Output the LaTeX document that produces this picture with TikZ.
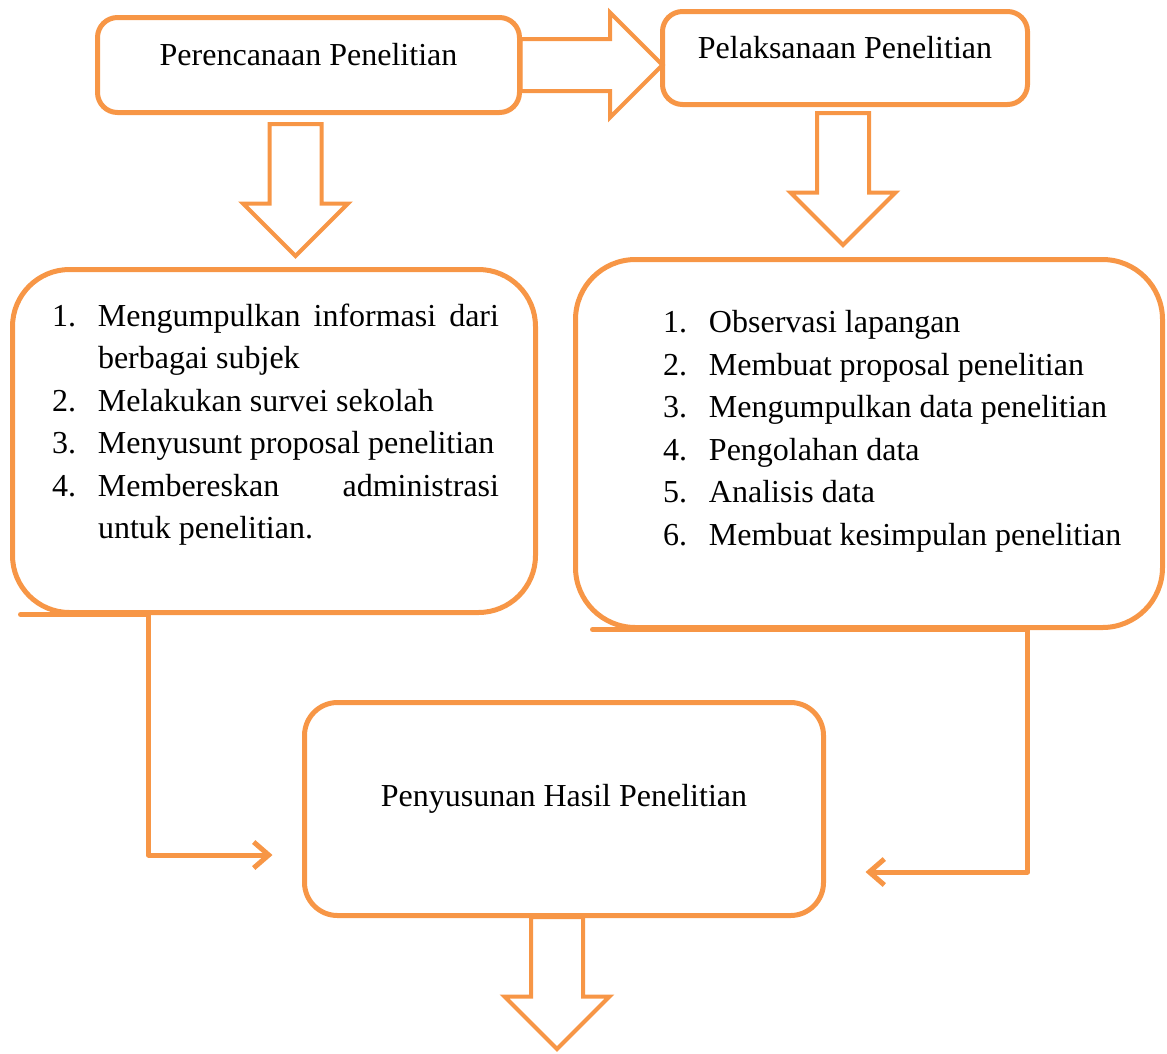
\documentclass[tikz,border=0pt]{standalone}
\usepackage{fontspec}
\setmainfont{Liberation Serif}
\usetikzlibrary{shapes.arrows,arrows.meta}
\definecolor{flow}{HTML}{F79646}
\hyphenpenalty=10000
\tolerance=10000
\hbadness=10000
\tikzset{stepbox/.style={draw=flow, line width=5pt, rounded corners=#1,
         inner sep=0pt, outer sep=0pt, text height=0pt, text depth=0pt},
         stepbox/.default={20pt},
         bigarrow/.style={single arrow, draw=flow, line width=4pt,
         minimum width=101pt, single arrow head extend=26.5pt,
         single arrow tip angle=90, minimum height=#1,
         inner sep=24pt, outer sep=0pt},
         bigarrow/.default={132pt},
         steplist/.style={anchor=base west, inner sep=0pt, outer sep=0pt,
         text width=#1, align=justify},
         link/.style={draw=flow, line width=5pt, line cap=round, line join=round,
         -{Straight Barb[length=15pt,width=26pt]}}}
\newcommand{\stepitem}[2]{{\noindent\hangindent=46pt\hangafter=1
  \makebox[46pt][l]{#1}#2\par}}

\begin{document}
\begin{tikzpicture}[x=1pt, y=-1pt, font=\fontsize{32}{42.5}\selectfont]
      \useasboundingbox (0,0) rectangle (1167,1053);

      \node[stepbox, minimum width=422pt, minimum height=95pt] (plan) at (308.5,65) {Perencanaan Penelitian};
      \node[stepbox, minimum width=365pt, minimum height=93pt] (exec) at (845,58) {Pelaksanaan Penelitian};
      \node[stepbox=57pt, minimum width=523pt, minimum height=343pt] (prep) at (274,441) {};
      \node[stepbox=60pt, minimum width=587pt, minimum height=368pt] (work) at (869,443.5) {};
      \node[stepbox=33pt, minimum width=519pt, minimum height=213pt] (result) at (564,809) {};
      \node[anchor=base, inner sep=0pt] (resulttitle) at ([yshift=3pt]result.center) {Penyusunan Hasil Penelitian};

      \node[bigarrow=142pt, anchor=tail] (toexec) at ([xshift=1pt]plan.east) {};
      \node[bigarrow, shape border rotate=270, anchor=tail] (toprep) at ([xshift=-13pt, yshift=-11.5pt]plan.south) {};
      \node[bigarrow, shape border rotate=270, anchor=tail] (towork) at ([xshift=-2pt, yshift=-8.5pt]exec.south) {};
      \node[bigarrow, shape border rotate=270, anchor=tail] (todone) at ([xshift=-7pt, yshift=-1.5pt]result.south) {};

      \node[steplist=447pt] (preplist) at (52,326) {%
        \stepitem{1.}{Mengumpulkan informasi dari berbagai subjek}
        \stepitem{2.}{Melakukan survei sekolah}
        \stepitem{3.}{Menyusunt proposal penelitian}
        \stepitem{4.}{Membereskan administrasi untuk penelitian.}};
      \node[steplist=487pt] (worklist) at (663,332.5) {%
        \stepitem{1.}{Observasi lapangan}
        \stepitem{2.}{Membuat proposal penelitian}
        \stepitem{3.}{Mengumpulkan data penelitian}
        \stepitem{4.}{Pengolahan data}
        \stepitem{5.}{Analisis data}
        \stepitem{6.}{Membuat kesimpulan penelitian}};

      \draw[link] ([xshift=8pt, yshift=-2pt]prep.south west) -- ([xshift=136pt, yshift=-2pt]prep.south west)
        |- ([xshift=-32pt, yshift=-46pt]result.west);
      \draw[link] ([xshift=17pt, yshift=-2pt]work.south west) -- ([xshift=-135pt, yshift=-2pt]work.south east)
        |- ([xshift=42pt, yshift=-63pt]result.east);
    \end{tikzpicture}
\end{document}
